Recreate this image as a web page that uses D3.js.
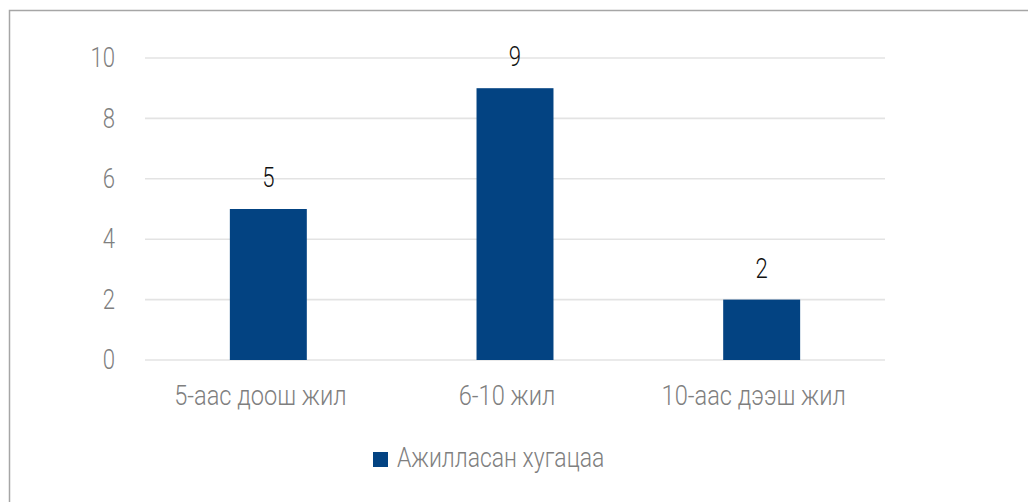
<!DOCTYPE html>
<html><head><meta charset="utf-8">
<script src="https://cdn.jsdelivr.net/npm/d3@7"></script>
<style>
html,body{margin:0;padding:0;background:#fff;}
svg text{font-family:Roboto,"Noto Sans",sans-serif;font-weight:300;}
</style></head>
<body><svg id="c" width="1028" height="502"></svg>
<script>
const categories = ["5-аас доош жил", "6-10 жил", "10-аас дээш жил"];
const values = [5, 9, 2];
const seriesName = "Ажилласан хугацаа";
const yTicks = [0, 2, 4, 6, 8, 10];

const W = 1028, H = 502;
const svg = d3.select("#c");
const SX = 0.82, SXC = 0.875, SXL = 0.85;

// outer border (only top & left visible)
svg.append("rect").attr("x", 9.5).attr("y", 10.5).attr("width", 1100).attr("height", 600)
  .attr("fill", "none").attr("stroke", "#a6a6a6").attr("stroke-width", 1.5);

const x = d3.scaleBand().domain(categories).range([145, 885]).paddingInner(0.688).paddingOuter(0.344);
const y = d3.scaleLinear().domain([0, 10]).range([360, 58]);

const g = svg.append("g");
// gridlines
g.selectAll("line.grid").data(yTicks).join("line")
  .attr("x1", 145).attr("x2", 885)
  .attr("y1", d => y(d)).attr("y2", d => y(d))
  .attr("stroke", "#e3e3e3").attr("stroke-width", 1.6);

// y tick labels
g.selectAll("text.yt").data(yTicks).join("text")
  .attr("transform", d => `translate(115,${y(d)}) scale(${SX},1)`)
  .attr("text-anchor", "end").attr("dominant-baseline", "central")
  .attr("font-size", 27).attr("fill", "#7f7f7f").text(d => d);

// bars
g.selectAll("rect.bar").data(values).join("rect")
  .attr("x", (d, i) => x(categories[i])).attr("width", x.bandwidth())
  .attr("y", d => y(d)).attr("height", d => y(0) - y(d))
  .attr("fill", "#034382");

// data labels
g.selectAll("text.dl").data(values).join("text")
  .attr("transform", (d, i) => `translate(${x(categories[i]) + x.bandwidth() / 2},${y(d) - 22}) scale(${SX},1)`)
  .attr("text-anchor", "middle").attr("font-size", 27).attr("fill", "#111").text(d => d);

// category labels
g.selectAll("text.cat").data(categories).join("text")
  .attr("transform", d => `translate(${x(d) + x.bandwidth() / 2 - 8},405) scale(${SXC},1)`)
  .attr("text-anchor", "middle").attr("font-size", 27).attr("fill", "#7f7f7f").text(d => d);

// legend
svg.append("rect").attr("x", 373).attr("y", 452).attr("width", 15).attr("height", 15).attr("fill", "#034382");
svg.append("text").attr("transform", `translate(397,467) scale(${SXL},1)`)
  .attr("font-size", 27).attr("fill", "#7f7f7f").text(seriesName);
</script></body></html>
